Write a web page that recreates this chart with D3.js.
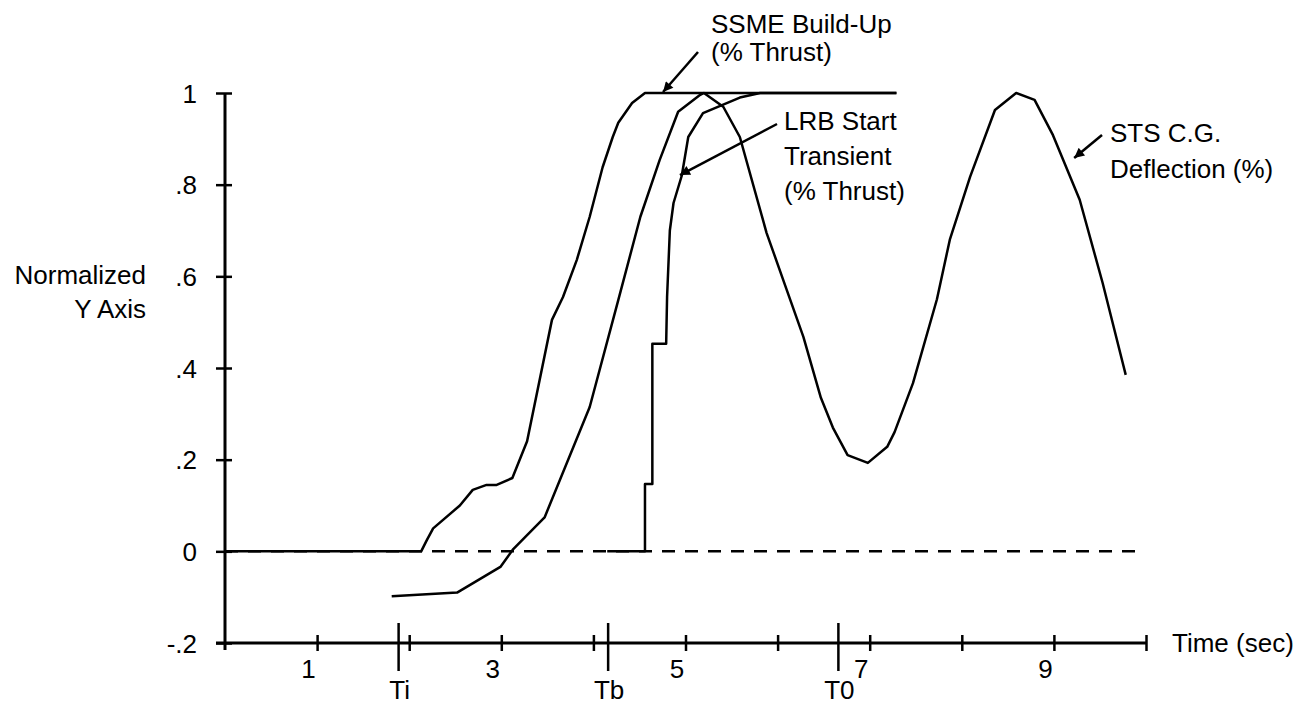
<!DOCTYPE html>
<html>
<head>
<meta charset="utf-8">
<script src="https://cdn.jsdelivr.net/npm/d3@7"></script>
<style>
  body { margin: 0; background: #fff; }
  text { font-family: "Liberation Sans", Arial, Helvetica, sans-serif; font-size: 26px; fill: #000; }
</style>
</head>
<body>
<svg id="chart" width="1297" height="707"></svg>
<script>
// values, [time (sec), normalized value]
const ssmeBuildUp = [
  [0, 0], [2.13, 0], [2.19, 0.024], [2.26, 0.05], [2.55, 0.10], [2.69, 0.134],
  [2.84, 0.145], [2.95, 0.145], [3.12, 0.16], [3.28, 0.24], [3.55, 0.505],
  [3.67, 0.555], [3.82, 0.636], [3.96, 0.73], [4.10, 0.838], [4.21, 0.904],
  [4.27, 0.935], [4.42, 0.978], [4.56, 1.0], [7.29, 1.0]
]
const lrbStart = [
  [4.15, 0], [4.56, 0], [4.56, 0.147], [4.64, 0.147], [4.64, 0.453], [4.79, 0.453],
  [4.80, 0.555], [4.83, 0.70], [4.87, 0.76], [4.96, 0.82], [5.03, 0.904],
  [5.19, 0.956], [5.59, 0.99], [5.81, 1.0], [7.29, 1.0]
]
const stsDeflection = [
  [1.81, -0.098], [2.52, -0.09], [2.99, -0.034], [3.13, 0.005], [3.47, 0.074],
  [3.96, 0.315], [4.27, 0.548], [4.51, 0.73], [4.72, 0.854], [4.92, 0.959],
  [5.16, 0.996], [5.20, 1.0], [5.41, 0.97], [5.59, 0.904], [5.88, 0.695],
  [6.10, 0.57], [6.28, 0.468], [6.47, 0.335], [6.60, 0.27], [6.76, 0.21],
  [6.98, 0.193], [7.19, 0.228], [7.27, 0.26], [7.47, 0.367], [7.73, 0.55],
  [7.87, 0.68], [8.09, 0.817], [8.36, 0.963], [8.59, 1.0], [8.79, 0.985],
  [8.99, 0.908], [9.28, 0.767], [9.53, 0.585], [9.74, 0.417], [9.78, 0.385]
]
const zeroLine = [[0, 0], [9.97, 0]]

const yTicks = [1, 0.8, 0.6, 0.4, 0.2, 0, -0.2]
const yTickLabels = ['1', '.8', '.6', '.4', '.2', '0', '-.2']
const xTicks = [1, 2, 3, 4, 5, 6, 7, 8, 9, 10]
const xTickLabels = ['1', '', '3', '', '5', '', '7', '', '9', '']
const markerTimes = [1.885, 4.16, 6.66]
const markerLabels = ['Ti', 'Tb', 'T0']

const svg = d3.select('#chart')

const x = d3.scaleLinear().domain([0, 10]).range([225, 1146])
const y = d3.scaleLinear().domain([-0.2, 1]).range([643, 93])

const line = d3.line().x(d => x(d[0])).y(d => y(d[1]))

// axes
const yAxisG = svg.append('g')
  .attr('transform', `translate(${x(0)},0)`)
  .call(d3.axisLeft(y).tickValues(yTicks)
    .tickFormat((d, i) => yTickLabels[i])
    .tickSize(9).tickPadding(19).tickSizeOuter(0))
yAxisG.select('.domain').remove()
yAxisG.selectAll('.tick line').attr('x2', -9).attr('x1', 7).attr('stroke-width', 2.5)
yAxisG.selectAll('.tick text').attr('dy', '0.35em')

const xAxisG = svg.append('g')
  .attr('transform', `translate(0,${y(-0.2)})`)
  .call(d3.axisBottom(x).tickValues(xTicks)
    .tickFormat((d, i) => xTickLabels[i])
    .tickSize(8).tickPadding(8.5).tickSizeOuter(0))
xAxisG.select('.domain').remove()
xAxisG.selectAll('.tick line').attr('y1', -8).attr('stroke-width', 2.5)
xAxisG.selectAll('.tick text').attr('x', -9)

svg.append('line')
  .attr('x1', x(0) - 9).attr('x2', x(10))
  .attr('y1', y(-0.2)).attr('y2', y(-0.2))
  .attr('stroke', '#000').attr('stroke-width', 3)
svg.append('line')
  .attr('x1', x(0)).attr('x2', x(0))
  .attr('y1', y(1)).attr('y2', y(-0.2) + 7)
  .attr('stroke', '#000').attr('stroke-width', 3)

// Ti / Tb / T0 markers
svg.selectAll('.marker')
  .data(markerTimes)
  .enter()
  .append('line')
  .attr('class', 'marker')
  .attr('x1', d => x(d)).attr('x2', d => x(d))
  .attr('y1', y(-0.2) - 20).attr('y2', y(-0.2) + 28)
  .attr('stroke', '#000').attr('stroke-width', 2.5)
svg.selectAll('.marker-label')
  .data(markerTimes)
  .enter()
  .append('text')
  .attr('class', 'marker-label')
  .attr('x', d => x(d) + 1)
  .attr('y', 699)
  .attr('text-anchor', 'middle')
  .text((d, i) => markerLabels[i])

svg.append('text').attr('x', 1172).attr('y', y(-0.2) + 9).text('Time (sec)')
svg.append('text').attr('x', 146).attr('y', 284).attr('text-anchor', 'end').text('Normalized')
svg.append('text').attr('x', 146).attr('y', 318).attr('text-anchor', 'end').text('Y Axis')

// curves
svg.append('path').datum(zeroLine)
  .attr('d', line).attr('fill', 'none')
  .attr('stroke', '#000').attr('stroke-width', 2.5)
  .attr('stroke-dasharray', '13,10')

;[ssmeBuildUp, lrbStart, stsDeflection].forEach(series => {
  svg.append('path').datum(series)
    .attr('d', line).attr('fill', 'none')
    .attr('stroke', '#000').attr('stroke-width', 2.5)
    .attr('stroke-linejoin', 'round')
})

// annotations with arrows
svg.append('defs').append('marker')
  .attr('id', 'head')
  .attr('viewBox', '0 0 10 10')
  .attr('refX', 10).attr('refY', 5)
  .attr('markerWidth', 16).attr('markerHeight', 10)
  .attr('markerUnits', 'userSpaceOnUse')
  .attr('orient', 'auto')
  .append('path').attr('d', 'M0,0L10,5L0,10Z').attr('fill', '#000')

const arrow = (x1, y1, x2, y2) => {
  svg.append('line')
    .attr('x1', x1).attr('y1', y1).attr('x2', x2).attr('y2', y2)
    .attr('stroke', '#000').attr('stroke-width', 2.5)
    .attr('marker-end', 'url(#head)')
}

const note = (lines, left, top, step) => {
  lines.forEach((t, i) => {
    svg.append('text').attr('x', left).attr('y', top + i * step).text(t)
  })
}

note(['SSME Build-Up', '(% Thrust)'], 711, 33, 28)
arrow(698, 52, x(4.756), y(1.0) - 1)

note(['LRB Start', 'Transient', '(% Thrust)'], 784, 130, 35)
arrow(777, 124, x(4.94), y(0.821))

note(['STS C.G.', 'Deflection (%)'], 1110, 142, 36)
arrow(1102, 135, x(9.22), y(0.858))
</script>
</body>
</html>
